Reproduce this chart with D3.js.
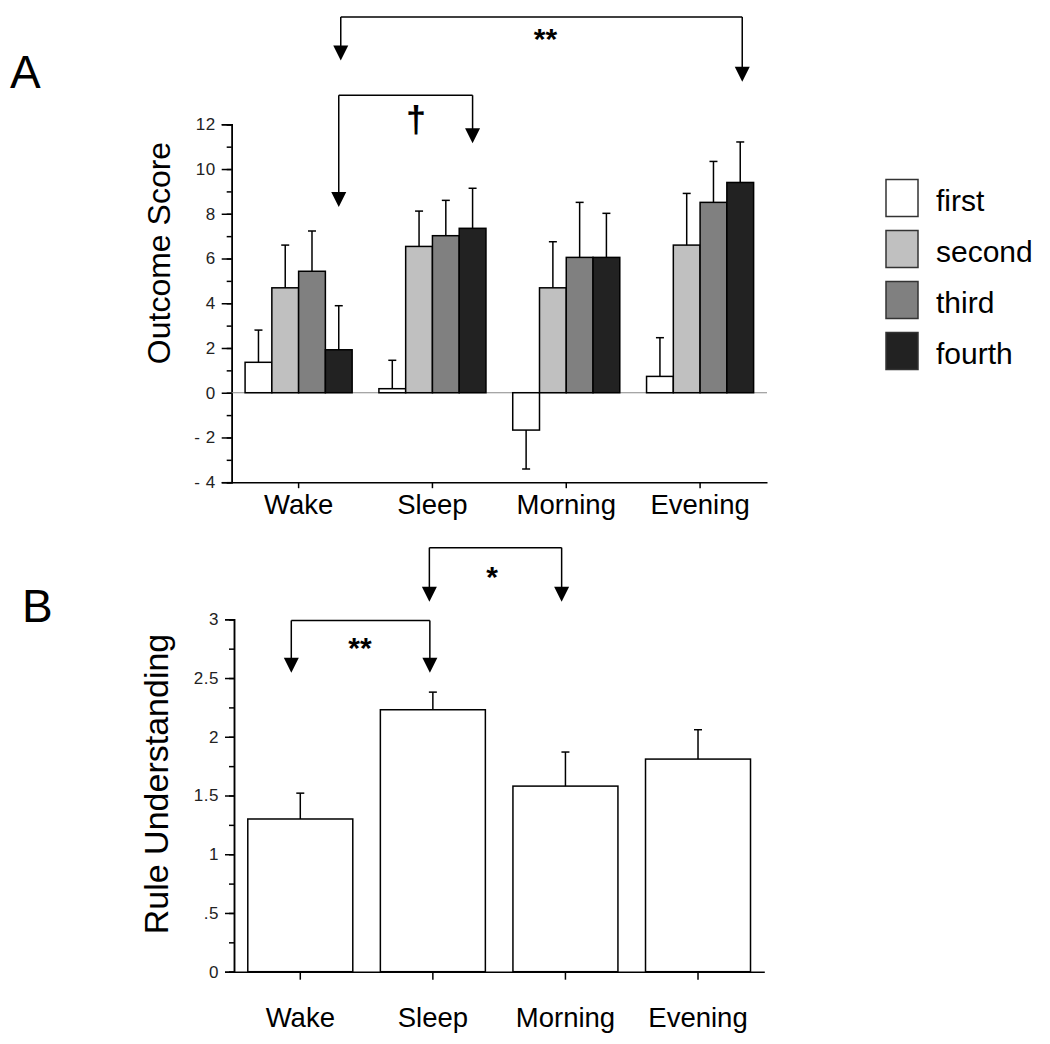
<!DOCTYPE html>
<html><head><meta charset="utf-8">
<script src="https://cdn.jsdelivr.net/npm/d3@7"></script>
<style>
body{margin:0;background:#fff;}
svg{display:block;font-family:"Liberation Sans",Arial,sans-serif;}
</style></head>
<body>
<svg id="c" width="1050" height="1044"></svg>
<script>
// ---------- data ----------
const categories = ["Wake", "Sleep", "Morning", "Evening"];
const series = ["first", "second", "third", "fourth"];
const seriesColors = ["#ffffff", "#c0c0c0", "#808080", "#222222"];

const firstMeans  = [1.36, 0.18, -1.67, 0.73];
const firstErr    = [1.44, 1.27, 1.74, 1.73];
const secondMeans = [4.69, 6.54, 4.69, 6.60];
const secondErr   = [1.91, 1.58, 2.06, 2.31];
const thirdMeans  = [5.43, 7.02, 6.05, 8.51];
const thirdErr    = [1.80, 1.58, 2.46, 1.83];
const fourthMeans = [1.92, 7.35, 6.05, 9.40];
const fourthErr   = [1.97, 1.79, 1.97, 1.81];

const ruleMeans = [1.30, 2.23, 1.58, 1.81];
const ruleErr   = [0.22, 0.15, 0.29, 0.25];

const outcomeTicks = [-4, -2, 0, 2, 4, 6, 8, 10, 12];
const outcomeTickLabels = ["- 4", "- 2", "0", "2", "4", "6", "8", "10", "12"];
const ruleTicks = [0, 0.5, 1, 1.5, 2, 2.5, 3];
const ruleTickLabels = ["0", ".5", "1", "1.5", "2", "2.5", "3"];

// ---------- build ----------
const svg = d3.select("#c");
const allMeans = [firstMeans, secondMeans, thirdMeans, fourthMeans];
const allErr = [firstErr, secondErr, thirdErr, fourthErr];
const rowsA = [];
categories.forEach((c, i) => series.forEach((s, j) => rowsA.push({cat: c, ser: s, j, v: allMeans[j][i], e: allErr[j][i]})));

function arrow(g, x, yTop, yTip) {
  const hw = 7.5, hh = 15;
  g.append("line").attr("x1", x).attr("x2", x).attr("y1", yTop).attr("y2", yTip - hh + 1)
    .attr("stroke", "#000").attr("stroke-width", 1.5);
  g.append("path").attr("d", `M${x - hw},${yTip - hh}L${x + hw},${yTip - hh}L${x},${yTip}Z`).attr("fill", "#000");
}
function bracket(g, xL, xR, yTop, tipL, tipR) {
  g.append("line").attr("x1", xL).attr("x2", xR).attr("y1", yTop).attr("y2", yTop)
    .attr("stroke", "#000").attr("stroke-width", 1.5);
  arrow(g, xL, yTop, tipL);
  arrow(g, xR, yTop, tipR);
}
function styleAxis(g, w) {
  g.selectAll(".domain").attr("stroke", "#000").attr("stroke-width", w);
  g.selectAll(".tick line").attr("stroke", "#000").attr("stroke-width", 1.5);
}

// ---------- Panel A ----------
const xA = d3.scaleBand().domain(categories).range([231.7, 767]);
const xA1 = d3.scaleBand().domain(series).range([0, xA.bandwidth()]).paddingOuter(0.5).paddingInner(0);
const yA = d3.scaleLinear().domain([-4, 12]).range([482.2, 124.3]);
const gA = svg.append("g");

const gAm = gA.append("g").attr("transform", "translate(231.7,0)")
  .call(d3.axisLeft(yA).tickValues(d3.range(-4, 13, 1)).tickSize(5).tickFormat(""));
styleAxis(gAm, 1.5);
const gAy = gA.append("g").attr("transform", "translate(231.7,0)")
  .call(d3.axisLeft(yA).tickValues(outcomeTicks).tickSize(10).tickPadding(6)
  .tickFormat((d, i) => outcomeTickLabels[i]));
styleAxis(gAy, 1.5);
gAy.selectAll("text").attr("font-size", 17).attr("letter-spacing", 0.5).attr("fill", "#222")
  .attr("font-family", "'Liberation Sans',Arial,sans-serif");

gA.append("line").attr("x1", 231.7).attr("x2", 767).attr("y1", yA(0)).attr("y2", yA(0))
  .attr("stroke", "#888").attr("stroke-width", 1.2);

const gAx = gA.append("g").attr("transform", `translate(0,${yA(-4)})`)
  .call(d3.axisBottom(xA).tickSize(6).tickSizeOuter(0).tickPadding(6));
styleAxis(gAx, 1.5);
gAx.selectAll("text").attr("font-size", 27.5).attr("fill", "#000").attr("dy", "0.72em")
  .attr("font-family", "'Liberation Sans',Arial,sans-serif");

gA.append("g").selectAll("rect").data(rowsA).join("rect")
  .attr("x", d => xA(d.cat) + xA1(d.ser))
  .attr("width", xA1.bandwidth())
  .attr("y", d => yA(Math.max(0, d.v)))
  .attr("height", d => Math.abs(yA(d.v) - yA(0)))
  .attr("fill", d => seriesColors[d.j]).attr("stroke", "#000").attr("stroke-width", 1.5);

const ebA = gA.append("g").selectAll("g").data(rowsA).join("g");
ebA.append("line")
  .attr("x1", d => xA(d.cat) + xA1(d.ser) + xA1.bandwidth() / 2)
  .attr("x2", d => xA(d.cat) + xA1(d.ser) + xA1.bandwidth() / 2)
  .attr("y1", d => yA(d.v))
  .attr("y2", d => yA(d.v + (d.v < 0 ? -d.e : d.e)))
  .attr("stroke", "#000").attr("stroke-width", 1.5);
ebA.append("line")
  .attr("x1", d => xA(d.cat) + xA1(d.ser) + xA1.bandwidth() / 2 - 4)
  .attr("x2", d => xA(d.cat) + xA1(d.ser) + xA1.bandwidth() / 2 + 4)
  .attr("y1", d => yA(d.v + (d.v < 0 ? -d.e : d.e)))
  .attr("y2", d => yA(d.v + (d.v < 0 ? -d.e : d.e)))
  .attr("stroke", "#000").attr("stroke-width", 1.5);

svg.append("text").attr("transform", "translate(170,253) rotate(-90)")
  .attr("text-anchor", "middle").attr("font-size", 32).text("Outcome Score");

svg.append("text").attr("x", 10).attr("y", 88).attr("font-size", 46).text("A");

const fx = c => xA(c) + xA1("fourth") + xA1.bandwidth() / 2;
const gAnn = svg.append("g");
bracket(gAnn, fx("Wake") + 2, fx("Evening") + 2, yA(16.8), yA(14.85), yA(13.9));
bracket(gAnn, fx("Wake"), fx("Sleep"), yA(13.3), yA(8.3), yA(11.15));
gAnn.append("text").attr("x", (fx("Wake") + fx("Evening")) / 2 + 6).attr("y", 49)
  .attr("text-anchor", "middle").attr("font-size", 30).attr("font-weight", "bold").text("**");
gAnn.append("text").attr("x", 416).attr("y", 132)
  .attr("text-anchor", "middle").attr("font-size", 36).attr("font-weight", "bold").text("†");

const leg = svg.append("g").selectAll("g").data(series).join("g")
  .attr("transform", (d, i) => `translate(886,${179.5 + i * 51})`);
leg.append("rect").attr("width", 32).attr("height", 37)
  .attr("fill", (d, i) => seriesColors[i]).attr("stroke", "#333").attr("stroke-width", 1.5);
leg.append("text").attr("x", 50).attr("y", 31).attr("font-size", 30).text(d => d);

// ---------- Panel B ----------
const xB = d3.scaleBand().domain(categories).range([234, 764.3]).paddingInner(0.208).paddingOuter(0.104);
const yB = d3.scaleLinear().domain([0, 3]).range([971.7, 619.3]);
const gB = svg.append("g");
const rowsB = categories.map((c, i) => ({cat: c, v: ruleMeans[i], e: ruleErr[i]}));

const gBm = gB.append("g").attr("transform", "translate(234,0)")
  .call(d3.axisLeft(yB).tickValues(d3.range(0, 3.01, 0.25)).tickSize(5).tickFormat(""));
styleAxis(gBm, 1.5);
const gBy = gB.append("g").attr("transform", "translate(234,0)")
  .call(d3.axisLeft(yB).tickValues(ruleTicks).tickSize(9).tickPadding(6)
  .tickFormat((d, i) => ruleTickLabels[i]));
styleAxis(gBy, 1.5);
gBy.selectAll("text").attr("font-size", 17).attr("letter-spacing", 0.5).attr("fill", "#222")
  .attr("font-family", "'Liberation Sans',Arial,sans-serif");

const gBx = gB.append("g").attr("transform", `translate(0,${yB(0)})`)
  .call(d3.axisBottom(xB).tickSize(8).tickSizeOuter(0).tickPadding(28));
styleAxis(gBx, 1.5);
gBx.selectAll("text").attr("font-size", 27.5).attr("fill", "#000").attr("dy", "0.72em")
  .attr("font-family", "'Liberation Sans',Arial,sans-serif");

gB.append("g").selectAll("rect").data(rowsB).join("rect")
  .attr("x", d => xB(d.cat)).attr("width", xB.bandwidth())
  .attr("y", d => yB(d.v)).attr("height", d => yB(0) - yB(d.v))
  .attr("fill", "#fff").attr("stroke", "#000").attr("stroke-width", 1.5);
const ebB = gB.append("g").selectAll("g").data(rowsB).join("g");
ebB.append("line")
  .attr("x1", d => xB(d.cat) + xB.bandwidth() / 2).attr("x2", d => xB(d.cat) + xB.bandwidth() / 2)
  .attr("y1", d => yB(d.v)).attr("y2", d => yB(d.v + d.e))
  .attr("stroke", "#000").attr("stroke-width", 1.5);
ebB.append("line")
  .attr("x1", d => xB(d.cat) + xB.bandwidth() / 2 - 4).attr("x2", d => xB(d.cat) + xB.bandwidth() / 2 + 4)
  .attr("y1", d => yB(d.v + d.e)).attr("y2", d => yB(d.v + d.e))
  .attr("stroke", "#000").attr("stroke-width", 1.5);

svg.append("text").attr("transform", "translate(168,784) rotate(-90)")
  .attr("text-anchor", "middle").attr("font-size", 34).text("Rule Understanding");
svg.append("text").attr("x", 22).attr("y", 622).attr("font-size", 46).text("B");

const cx = c => xB(c) + xB.bandwidth() / 2;
const gBn = svg.append("g");
bracket(gBn, cx("Wake") - 9, cx("Sleep") - 3, yB(2.99), yB(2.545), yB(2.545));
bracket(gBn, cx("Sleep") - 3.5, cx("Morning") - 3.8, yB(3.61), yB(3.15), yB(3.15));
gBn.append("text").attr("x", 360).attr("y", 658).attr("text-anchor", "middle").attr("font-size", 30).attr("font-weight", "bold").text("**");
gBn.append("text").attr("x", 492).attr("y", 587).attr("text-anchor", "middle").attr("font-size", 30).attr("font-weight", "bold").text("*");
</script>
</body></html>
